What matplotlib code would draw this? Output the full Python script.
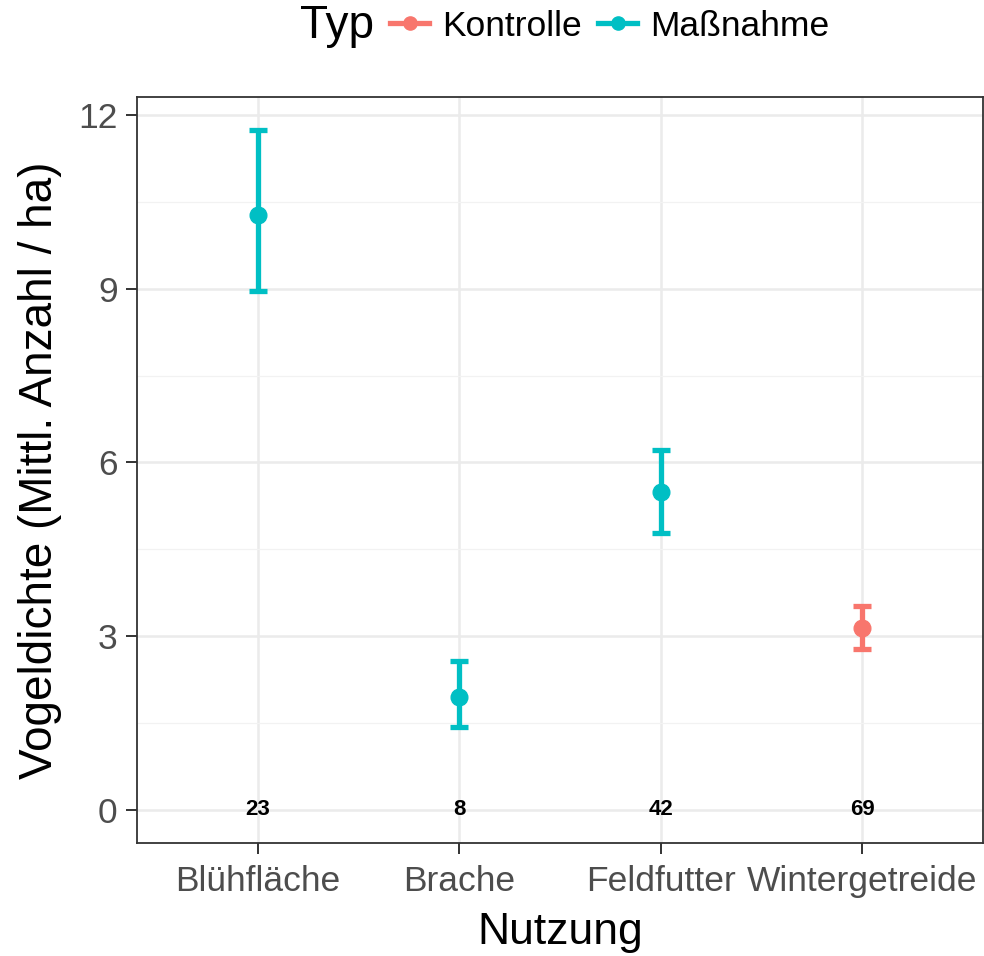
import matplotlib
matplotlib.use("Agg")
import matplotlib.pyplot as plt
from matplotlib.lines import Line2D
import numpy as np

plt.rcParams['font.family'] = ['Liberation Sans', 'DejaVu Sans']

categories = ["Blühfläche", "Brache", "Feldfutter", "Wintergetreide"]
typ = ["Maßnahme", "Maßnahme", "Maßnahme", "Kontrolle"]
mean = [10.28, 1.95, 5.49, 3.14]
lower = [8.96, 1.43, 4.78, 2.78]
upper = [11.74, 2.57, 6.22, 3.52]
n_obs = [23, 8, 42, 69]
typ_levels = ["Kontrolle", "Maßnahme"]
typ_colors = {"Kontrolle": "#F8766D", "Maßnahme": "#00BFC4"}
y_ticks = [0, 3, 6, 9, 12]

fig = plt.figure(figsize=(9.84, 9.56), dpi=100)
ax = fig.add_axes([137/984, 1-843/956, (983-137)/984, (843-97)/956])

x = np.arange(1, len(categories) + 1)
for xi, m, lo, up, t in zip(x, mean, lower, upper, typ):
    c = typ_colors[t]
    ax.errorbar([xi], [m], yerr=[[m - lo], [up - m]], fmt='o', color=c,
                ecolor=c, elinewidth=3.8, capsize=6.8, capthick=3.8,
                markersize=12, zorder=3)
for xi, nn in zip(x, n_obs):
    ax.text(xi, 0, str(nn), ha='center', va='center', fontsize=16,
            fontweight='bold', color='black', zorder=4)

ax.set_xlim(0.4, 4.6)
ax.set_ylim(-0.57, 12.31)
ax.set_xticks(x)
ax.set_xticklabels(categories)
ax.set_yticks(y_ticks)
ax.set_yticks([1.5, 4.5, 7.5, 10.5], minor=True)
ax.grid(True, which='major', color='#EBEBEB', linewidth=1.8, zorder=0)
ax.grid(True, which='minor', axis='y', color='#F2F2F2', linewidth=0.9, zorder=0)
ax.set_axisbelow(True)
ax.tick_params(axis='both', which='major', length=8, width=1.4, color='#333333',
               labelsize=25.5, labelcolor='#4D4D4D', pad=6)
ax.tick_params(axis='x', which='major', pad=8)
ax.tick_params(axis='both', which='minor', length=0)
for s in ax.spines.values():
    s.set_color('#333333')
    s.set_linewidth(1.3)

ax.set_xlabel("Nutzung", fontsize=32, color='black', labelpad=10)
ax.set_ylabel("Vogeldichte (Mittl. Anzahl / ha)", fontsize=33, color='black', labelpad=12)

handles = [Line2D([0], [0], color=typ_colors[t], lw=3.8, marker='o', markersize=9.5)
           for t in typ_levels]
fig.text(337/984, 1-26/956, "Typ", fontsize=33, ha='center', va='center')
fig.legend(handles, typ_levels, loc='center', bbox_to_anchor=(610/984, 1-26/956),
           ncol=2, frameon=False, fontsize=25.5, handlelength=1.1,
           handletextpad=0.37, columnspacing=0.46, borderpad=0)

fig.savefig("out.png", dpi=100)
